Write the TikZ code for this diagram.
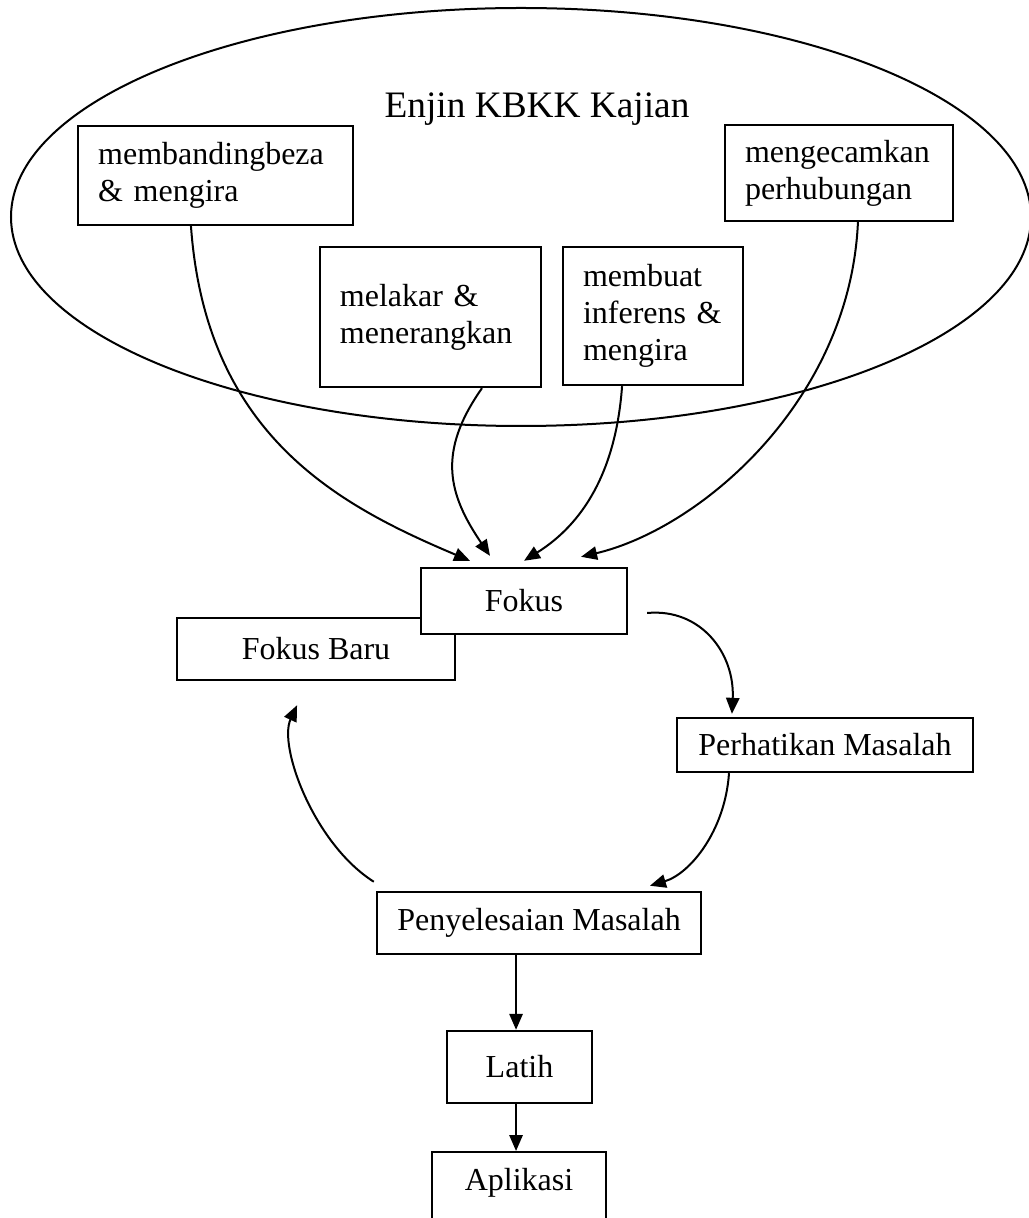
\documentclass[tikz,border=0pt]{standalone}
\usepackage{fontspec}
\setmainfont{Liberation Serif}
\usetikzlibrary{arrows.meta}
\tikzset{
  kotak/.style={draw, line width=0.9pt, fill=white, inner sep=0pt, font=\fontsize{12pt}{13.9pt}\selectfont},
  kotakkiri/.style={kotak, align=left, inner xsep=7.5pt},
  anak/.style={line width=0.75pt, -{Triangle[length=6pt, width=5pt]}}
}
\begin{document}
\begin{tikzpicture}[x=0.375pt, y=0.375pt]
    \useasboundingbox (0, 0) rectangle (1029, -1218);
     \draw[line width=0.75pt] (521, -217) ellipse [x radius=510, y radius=209];
        \node[font=\fontsize{14pt}{17pt}\selectfont] (tajuk) at (537, -109){Enjin KBKK Kajian};

        \node[kotakkiri, text width=88pt, minimum height=37.1pt] (banding) at (215.5, -175.5){membandingbeza\\\& mengira};
        \node[kotakkiri, text width=70.5pt, minimum height=36pt] (kenal) at (839, -173){mengecamkan\\perhubungan};
        \node[kotakkiri, text width=67.9pt, minimum height=52.5pt] (lakar) at (430.5, -317){melakar \&\\menerangkan};
        \node[kotakkiri, text width=52.5pt, minimum height=51.75pt] (infer) at (653, -316){membuat\\inferens \&\\mengira};

        \node[kotak, minimum width=104.25pt, minimum height=23.25pt] (fbaru) at (316, -649){Fokus Baru};
        \node[kotak, minimum width=77.25pt, minimum height=24.75pt] (fokus) at (524, -601){Fokus};
        \node[kotak, minimum width=111pt, minimum height=20.25pt] (perhati) at (825, -745){Perhatikan Masalah};
        \node[kotak, minimum width=121.5pt, minimum height=23.25pt] (selesai) at (539, -923){Penyelesaian Masalah};
        \node[kotak, minimum width=54.4pt, minimum height=27pt] (latih) at (519.5, -1067){Latih};
        \node[kotak, anchor=north, minimum width=65.25pt, inner ysep=6pt, text depth=20pt] (aplikasi) at (519, -1151){Aplikasi};

        \draw[anak] ([xshift=-9.2pt]banding.south) .. controls +(15, -210) and +(-130, 55) .. ([xshift=-20.25pt, yshift=2.25pt]fokus.north);
        \draw[anak] ([xshift=19.3pt]lakar.south) .. controls +(-45, -64) and +(-42, 62) .. ([xshift=-12.75pt, yshift=4.1pt]fokus.north);
        \draw[anak] ([xshift=-11.6pt]infer.south) .. controls +(-7, -96) and +(51, 32) .. ([yshift=2.25pt]fokus.north);
        \draw[anak] ([xshift=7.1pt]kenal.south) .. controls +(-8, -179) and +(119, 28) .. ([xshift=21.4pt, yshift=3.75pt]fokus.north);

        \draw[anak] ([xshift=7.1pt, yshift=-4.5pt]fokus.east) .. controls +(54, 5) and +(3, 60) .. ([xshift=-34.9pt, yshift=1.1pt]perhati.north);
        \draw[anak] ([xshift=-36pt]perhati.south) .. controls +(-4, -58) and +(40, 12) .. ([xshift=41.6pt, yshift=1.9pt]selesai.north);
        \draw[anak] ([xshift=-0.75pt, yshift=3.4pt]selesai.north west) .. controls +(-60, 38) and +(-19, -41) .. ([xshift=-7.1pt, yshift=-9pt]fbaru.south);

        \draw[anak] ([xshift=-1.3pt]latih.north |- selesai.south) to ([xshift=-1.3pt]latih.north);
        \draw[anak] ([xshift=-1.3pt]latih.south) to ([xshift=-1.3pt]latih.south |- aplikasi.north);
    \end{tikzpicture}
\end{document}
